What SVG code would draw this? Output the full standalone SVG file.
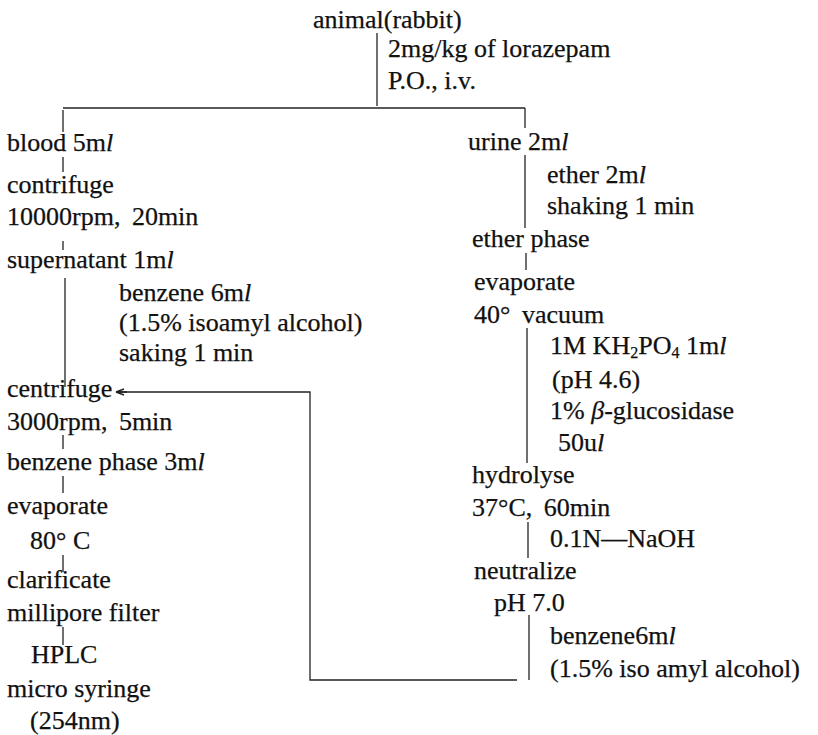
<svg xmlns="http://www.w3.org/2000/svg" width="818" height="735" viewBox="0 0 818 735">
<defs>
<style>
text{font-family:"Liberation Serif","Times New Roman",serif;font-size:26px;fill:#111;stroke:#111;stroke-width:0.25;}
.it{font-style:italic;}
.sub{font-size:16px;}
.ws{word-spacing:5px;}
.ln{stroke:#222;stroke-width:1.3;fill:none;}
.bg{fill:#fff;}
</style>
<marker id="arr" viewBox="0 0 12 10" refX="11" refY="5" markerWidth="12" markerHeight="10" markerUnits="userSpaceOnUse" orient="auto">
<path d="M0,5 L11,5 M11,5 L3,2 M11,5 L3,8" stroke="#222" stroke-width="1.4" fill="none"/>
</marker>
</defs>
<rect class="bg" x="0" y="0" width="818" height="735"/>

<g id="connectors">
<line class="ln" x1="377" y1="33" x2="377" y2="106"/>
<line class="ln" x1="63" y1="108" x2="525" y2="108"/>
<line class="ln" x1="63" y1="110" x2="63" y2="132"/>
<line class="ln" x1="525" y1="108" x2="525" y2="128"/>
<line class="ln" x1="63" y1="157" x2="63" y2="172"/>
<line class="ln" x1="63" y1="241" x2="63" y2="250"/>
<line class="ln" x1="65" y1="278" x2="65" y2="387"/>
<line class="ln" x1="63" y1="435" x2="63" y2="449"/>
<line class="ln" x1="63" y1="476" x2="63" y2="493"/>
<line class="ln" x1="63" y1="555" x2="63" y2="572"/>
<line class="ln" x1="63" y1="627" x2="63" y2="645"/>
<path class="ln" d="M517,680 H310 V392 H116" marker-end="url(#arr)"/>
<line class="ln" x1="525" y1="155" x2="525" y2="228"/>
<line class="ln" x1="526" y1="253" x2="526" y2="270"/>
<line class="ln" x1="527" y1="328" x2="527" y2="463"/>
<line class="ln" x1="528" y1="522" x2="528" y2="558"/>
<line class="ln" x1="529" y1="615" x2="529" y2="680"/>
</g>

<g id="n-animal"><text x="313" y="28">animal(rabbit)</text></g>
<g id="l-dose"><text x="388" y="57">2mg/kg of lorazepam</text><text x="388" y="89">P.O., i.v.</text></g>

<g id="n-blood"><text x="7" y="151">blood 5m<tspan class="it">l</tspan></text></g>
<g id="n-contrifuge"><text x="7" y="193">contrifuge</text><text x="7" y="225" class="ws">10000rpm, 20min</text></g>
<g id="n-supernatant"><text x="7" y="268">supernatant 1m<tspan class="it">l</tspan></text></g>
<g id="l-benzene1"><text x="119" y="301">benzene 6m<tspan class="it">l</tspan></text><text x="119" y="331">(1.5% isoamyl alcohol)</text><text x="119" y="361">saking 1 min</text></g>
<g id="n-centrifuge"><text x="7" y="397">centrifuge</text><text x="7" y="430" class="ws">3000rpm, 5min</text></g>
<g id="n-benzenephase"><text x="7" y="470">benzene phase 3m<tspan class="it">l</tspan></text></g>
<g id="n-evaporate1"><text x="7" y="514">evaporate</text><text x="30" y="549">80° C</text></g>
<g id="n-clarificate"><text x="7" y="588">clarificate</text><text x="7" y="621">millipore filter</text></g>
<g id="n-hplc"><text x="31" y="663">HPLC</text><text x="7" y="697">micro syringe</text><text x="30" y="729">(254nm)</text></g>

<g id="n-urine"><text x="468" y="150">urine 2m<tspan class="it">l</tspan></text></g>
<g id="l-ether"><text x="547" y="183">ether 2m<tspan class="it">l</tspan></text><text x="547" y="214">shaking 1 min</text></g>
<g id="n-etherphase"><text x="472" y="247">ether phase</text></g>
<g id="n-evaporate2"><text x="474" y="290">evaporate</text><text x="474" y="323" class="ws">40° vacuum</text></g>
<g id="l-kh2po4"><text x="550" y="354">1M KH<tspan class="sub" dy="4">2</tspan><tspan dy="-4">PO</tspan><tspan class="sub" dy="4">4</tspan><tspan dy="-4"> 1m</tspan><tspan class="it">l</tspan></text><text x="552" y="388">(pH 4.6)</text><text x="550" y="419">1% <tspan class="it">β</tspan>-glucosidase</text><text x="558" y="451">50u<tspan class="it">l</tspan></text></g>
<g id="n-hydrolyse"><text x="472" y="483">hydrolyse</text><text x="472" y="516" class="ws">37°C, 60min</text></g>
<g id="l-naoh"><text x="550" y="547">0.1N—NaOH</text></g>
<g id="n-neutralize"><text x="474" y="579">neutralize</text><text x="494" y="611">pH 7.0</text></g>
<g id="l-benzene2"><text x="550" y="644">benzene6m<tspan class="it">l</tspan></text><text x="550" y="677">(1.5% iso amyl alcohol)</text></g>
</svg>
